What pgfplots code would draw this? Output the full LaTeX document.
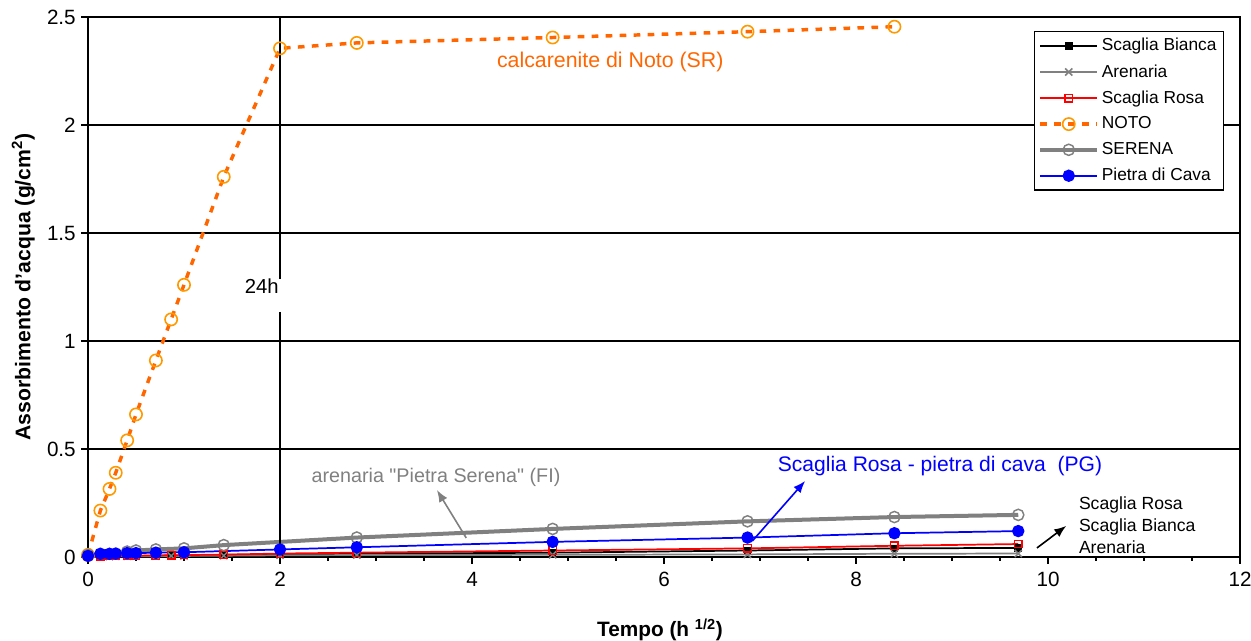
\documentclass[12pt,border=0pt]{standalone}
\usepackage{fontspec}
\setmainfont{Liberation Sans}
\usepackage{pgfplots}
\pgfplotsset{compat=1.18}
\usetikzlibrary{arrows.meta}
\definecolor{notoline}{HTML}{FF6600}
\definecolor{notomark}{HTML}{FF9900}
\definecolor{grigio}{HTML}{808080}
\begin{document}
\begin{tikzpicture}[>={Latex[length=9pt,width=7pt]}]
\begin{axis}[
  scale only axis, width=864pt, height=405pt,
  xmin=0, xmax=12, ymin=0, ymax=2.5,
  xtick={0,2,...,12}, minor x tick num=3,
  ytick={0,0.5,1,1.5,2,2.5},
  tick align=outside, tick pos=left,
  major tick length=5pt, minor tick length=3pt,
  every tick/.style={black, line width=0.8pt},
  axis line style={black, line width=1.2pt},
  ymajorgrids, grid style={black, line width=0.9pt},
  /pgf/number format/assume math mode=true,
  ticklabel style={font=\fontsize{15.5}{18}\selectfont},
  xticklabel style={yshift=-2pt},
  every axis y label/.style={at={(axis description cs:0,0.5)}, xshift=-48.5pt, rotate=90, anchor=center},
  every axis x label/.style={at={(axis description cs:0.4965,0)}, yshift=-54.75pt, anchor=center},
  xlabel={\bfseries\fontsize{15.6}{18}\selectfont Tempo (h \textsuperscript{1/2})},
  ylabel={\bfseries\fontsize{15.9}{18}\selectfont Assorbimento d'acqua (g/cm\textsuperscript{2})},
  legend cell align=left,
  legend style={at={(0.986,0.974)}, anchor=north east, draw=black, line width=1pt, fill=white,
    font=\fontsize{13}{15}\selectfont, row sep=4.4pt, inner xsep=3pt, inner ysep=3pt},
  legend image code/.code={\draw[mark repeat=2,mark phase=2] plot coordinates {(0cm,0cm) (0.75cm,0cm) (1.5cm,0cm)};},
  clip=false,
]
\coordinate (BL) at (rel axis cs:0,0);
\coordinate (TR) at (rel axis cs:1,1);

% Scaglia Bianca
\addplot[black, line width=1.3pt, mark=square*, mark size=2.2pt, mark options={solid, fill=black}] coordinates {
(0,0.002) (0.129,0.003) (0.224,0.004) (0.289,0.004) (0.408,0.005) (0.5,0.005) (0.707,0.006) (0.866,0.007) (1,0.008) (1.414,0.010)
(2,0.012) (2.8,0.015) (4.84,0.02) (6.87,0.03) (8.4,0.04) (9.69,0.042)};
\addlegendentry{Scaglia Bianca}
% Arenaria
\addplot[grigio, line width=1.3pt, mark=x, mark size=3.8pt, mark options={solid, line width=1.1pt}] coordinates {
(0,0.001) (0.129,0.002) (0.224,0.002) (0.289,0.003) (0.408,0.003) (0.5,0.004) (0.707,0.004) (0.866,0.005) (1,0.005) (1.414,0.006)
(2,0.008) (2.8,0.009) (4.84,0.01) (6.87,0.012) (8.4,0.015) (9.69,0.016)};
\addlegendentry{Arenaria}
% Scaglia Rosa
\addplot[red, line width=1.3pt, mark=square, mark size=2.8pt, mark options={solid, line width=1pt}] coordinates {
(0,0.002) (0.129,0.004) (0.224,0.005) (0.289,0.005) (0.408,0.006) (0.5,0.006) (0.707,0.007) (0.866,0.008) (1,0.009) (1.414,0.011)
(2,0.016) (2.8,0.02) (4.84,0.03) (6.87,0.04) (8.4,0.052) (9.69,0.06)};
\addlegendentry{Scaglia Rosa}
% NOTO
\addplot[notoline, line width=2.6pt, dash pattern=on 5pt off 5.5pt, mark=o, mark size=4.6pt, mark options={solid, draw=notomark, line width=1.2pt, fill=none}] coordinates {
(0,0.01) (0.129,0.215) (0.224,0.315) (0.289,0.39) (0.408,0.54) (0.5,0.66) (0.707,0.91) (0.866,1.10) (1,1.26) (1.414,1.76)
(2,2.355) (2.8,2.38) (4.84,2.405) (6.87,2.432) (8.4,2.455)};
\addlegendentry{NOTO}
% SERENA
\addplot[grigio, line width=3pt, mark=o, mark size=4.2pt, mark options={solid, line width=1.1pt, fill=none}] coordinates {
(0,0.01) (0.408,0.025) (0.5,0.03) (0.707,0.035) (1,0.04) (1.414,0.055)
(2.8,0.09) (4.84,0.13) (6.87,0.165) (8.4,0.185) (9.69,0.195)};
\addlegendentry{SERENA}
% Pietra di Cava
\addplot[blue, line width=1.3pt, mark=*, mark size=4pt, mark options={solid, fill=blue}] coordinates {
(0,0.005) (0.129,0.015) (0.224,0.015) (0.289,0.016) (0.408,0.018) (0.5,0.018) (0.707,0.02) (1,0.022)
(2,0.035) (2.8,0.045) (4.84,0.07) (6.87,0.09) (8.4,0.11) (9.69,0.12)};
\addlegendentry{Pietra di Cava}

% 24h marker line
\draw[black, line width=1.2pt] (axis cs:2,2.5) -- (axis cs:2,1.285);
\draw[black, line width=1.2pt] (axis cs:2,1.135) -- (axis cs:2,0);
\node[anchor=east, inner sep=0pt, font=\fontsize{15.2}{17}\selectfont] at (axis cs:1.99,1.255) {24h};

% annotations
\node[notoline, font=\fontsize{16}{18}\selectfont] at (axis cs:5.44,2.29) {calcarenite di Noto (SR)};
\node[grigio, font=\fontsize{14.8}{17}\selectfont] at (axis cs:3.625,0.37) {arenaria \textquotedbl Pietra Serena\textquotedbl\ (FI)};
\draw[grigio, line width=1.2pt, ->] (axis cs:3.94,0.088) -- (axis cs:3.635,0.31);
\node[blue, font=\fontsize{15.8}{18}\selectfont] at (axis cs:8.875,0.42) {Scaglia Rosa - pietra di cava\ \ (PG)};
\draw[blue, line width=1.2pt, ->] (axis cs:6.92,0.074) -- (axis cs:7.47,0.352);
\node[anchor=west, inner sep=0pt, font=\fontsize{13.2}{15}\selectfont] at (axis cs:10.32,0.241) {Scaglia Rosa};
\node[anchor=west, inner sep=0pt, font=\fontsize{13.2}{15}\selectfont] at (axis cs:10.32,0.139) {Scaglia Bianca};
\node[anchor=west, inner sep=0pt, font=\fontsize{13.2}{15}\selectfont] at (axis cs:10.32,0.046) {Arenaria};
\draw[black, line width=1.2pt, ->] (axis cs:9.885,0.042) -- (axis cs:10.19,0.144);
\end{axis}
\pgfresetboundingbox
\path ([shift={(-66pt,-63pt)}]BL) rectangle ([shift={(8.25pt,12.75pt)}]TR);
\end{tikzpicture}
\end{document}
